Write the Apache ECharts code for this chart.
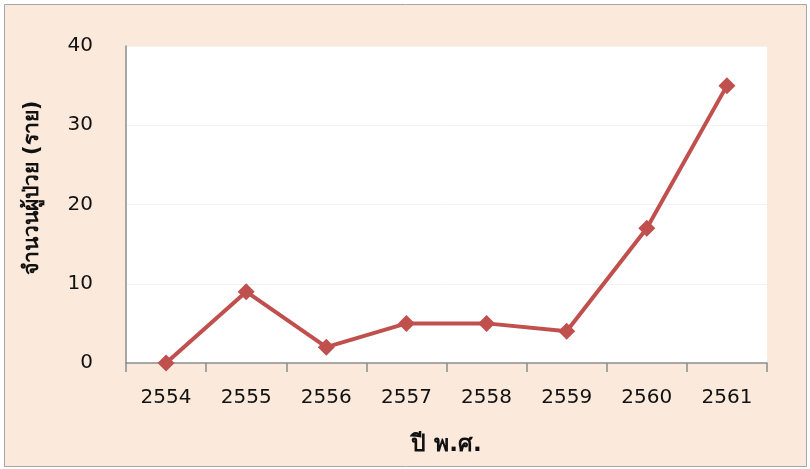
<!DOCTYPE html>
<html><head><meta charset="utf-8">
<script src="https://cdn.jsdelivr.net/npm/echarts@6/dist/echarts.min.js"></script>
<style>html,body{margin:0;padding:0;background:#fff}#c{width:810px;height:469px}</style>
</head><body><div id="c"></div>
<script>
const categories = ['2554','2555','2556','2557','2558','2559','2560','2561'];
const patients = [0, 9, 2, 5, 5, 4, 17, 35];
const yTicks = [0, 10, 20, 30, 40];
const xTitle = 'ปี พ.ศ.';
const yTitle = 'จำนวนผู้ป่วย (ราย)';
const font = 'Tahoma, "DejaVu Sans", "Noto Sans", sans-serif';
const chart = echarts.init(document.getElementById('c'));
chart.setOption({
  backgroundColor: '#fff',
  graphic: [
    {type:'rect', z:-10, silent:true, shape:{x:4.5,y:4.5,width:802,height:462},
      style:{fill:'#FBEADC', stroke:'#A6A6A6', lineWidth:1}},
    {type:'text', x:33, y:188, rotation:Math.PI/2, silent:true,
      style:{text:yTitle, fontFamily:font, fontSize:21, fontWeight:'bold', fill:'#111',
        align:'center', verticalAlign:'middle'}}
  ],
  grid: {left:126, right:43, top:46, bottom:106, backgroundColor:'#fff', show:true, borderWidth:0},
  xAxis: {type:'category', data:categories, boundaryGap:true,
    name:xTitle, nameLocation:'middle', nameGap:71,
    nameTextStyle:{fontFamily:font, fontSize:23, fontWeight:'bold', color:'#111'},
    axisLine:{lineStyle:{color:'#8C8C8C', width:1.5}},
    axisTick:{show:true, length:9, lineStyle:{color:'#8C8C8C', width:1.5}},
    axisLabel:{fontFamily:font, fontSize:20, color:'#111', margin:25}},
  yAxis: {type:'value', min:yTicks[0], max:yTicks[yTicks.length-1], interval:10,
    axisLine:{show:true, lineStyle:{color:'#8C8C8C', width:1.5}},
    axisTick:{show:false},
    splitLine:{lineStyle:{color:'#F2F2F2', width:1}},
    axisLabel:{fontFamily:font, fontSize:20, color:'#111', margin:33}},
  series: [{type:'line', data:patients, symbol:'diamond', symbolSize:17,
    lineStyle:{color:'#C0504D', width:4}, itemStyle:{color:'#C0504D'}}]
});
</script></body></html>
